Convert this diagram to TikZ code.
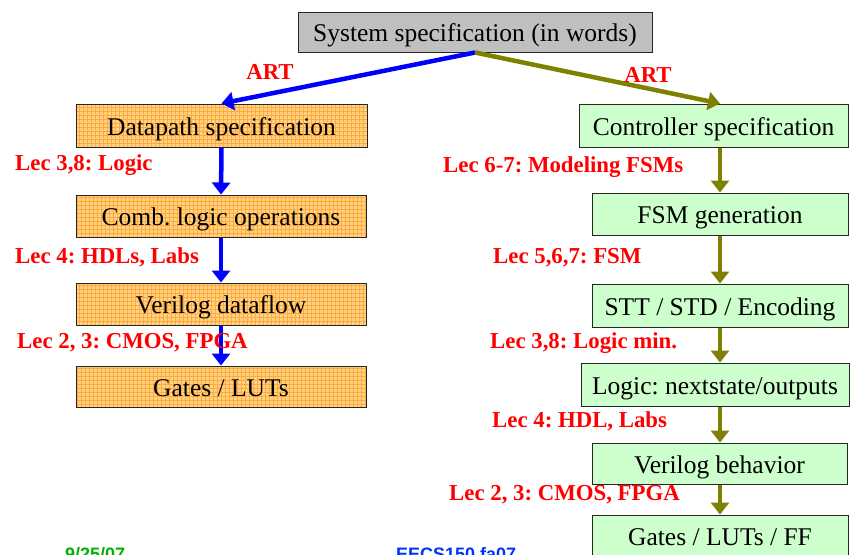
\documentclass[tikz,border=0pt]{standalone}
\usepackage{fontspec}
\setmainfont{Liberation Serif}
\newfontfamily\footfont{Liberation Sans}
\usetikzlibrary{arrows.meta,calc}

\definecolor{dpfill}{HTML}{FFD27F}
\definecolor{dpgrid}{HTML}{FFA940}
\definecolor{ctlfill}{HTML}{CCFFCC}
\definecolor{sysfill}{HTML}{C0C0C0}
\definecolor{olivearrow}{HTML}{808000}
\definecolor{lecred}{HTML}{FF0000}
\definecolor{footgreen}{HTML}{00B000}
\definecolor{footblue}{HTML}{0033FF}

\tikzset{
  box/.style={draw=black!85, line width=1pt, inner sep=0pt, anchor=center,
    text height=20pt, text depth=1pt,
    font=\fontsize{25.5}{28}\selectfont},
  sysbox/.style={box, fill=sysfill},
  dpbox/.style={box, fill=dpfill,
    path picture={\draw[dpgrid, line width=0.75pt, step=4pt]
      (path picture bounding box.south west) grid (path picture bounding box.north east);}},
  ctlbox/.style={box, fill=ctlfill},
  flow/.style={line width=4.5pt, -{Triangle[length=12pt,width=18pt]}},
  dpflow/.style={flow, draw=blue, fill=blue},
  ctlflow/.style={flow, draw=olivearrow, fill=olivearrow},
  lec/.style={text=lecred, font=\bfseries\fontsize{22.8}{25}\selectfont, inner sep=0pt},
  foot/.style={font=\footfont\bfseries\fontsize{18}{20}\selectfont, inner sep=0pt, anchor=base west}
}

\begin{document}
\frenchspacing
\begin{tikzpicture}[x=1pt, y=-1pt]
  \useasboundingbox (0,0) rectangle (850,554);
  \clip (0,0) rectangle (850,554);

  % top-level specification
  \node[sysbox, minimum width=354pt, minimum height=40pt] (sys) at (475,32)
    {System specification (in words)};

  % datapath column
  \node[dpbox, minimum width=291pt, minimum height=43pt] (dp) at (221.5,125.5) {Datapath specification};
  \node[dpbox, minimum width=290pt, minimum height=42pt] (comb) at (221,216) {Comb. logic operations};
  \node[dpbox, minimum width=290pt, minimum height=42pt] (vdf) at (221,304) {Verilog dataflow};
  \node[dpbox, minimum width=290pt, minimum height=41pt] (gates) at (221,386.5) {Gates / LUTs};

  % controller column
  \node[ctlbox, minimum width=269pt, minimum height=43pt] (ctl) at (713.5,125.5) {Controller specification};
  \node[ctlbox, minimum width=256pt, minimum height=42pt] (fsm) at (720,214) {FSM generation};
  \node[ctlbox, minimum width=256pt, minimum height=43pt] (stt) at (720,305.5) {STT / STD / Encoding};
  \node[ctlbox, minimum width=268pt, minimum height=43pt] (nsl) at (715,384.5) {Logic: nextstate/outputs};
  \node[ctlbox, minimum width=255pt, minimum height=41pt] (vbh) at (719.5,463.5) {Verilog behavior};
  \node[ctlbox, minimum width=256pt, minimum height=42pt] (glf) at (720,536) {Gates / LUTs / FF};

  % flow arrows
  \draw[dpflow] (sys.south) -- (dp.north);
  \draw[ctlflow] (sys.south) -- (ctl.north -| fsm.north);
  \draw[dpflow] (dp.south) -- (comb.north);
  \draw[dpflow] (comb.south) -- (vdf.north);
  \draw[dpflow] (vdf.south) -- (gates.north);
  \draw[ctlflow] (ctl.south -| fsm.north) -- (fsm.north);
  \draw[ctlflow] (fsm.south) -- (stt.north);
  \draw[ctlflow] (stt.south) -- (nsl.north -| stt.north);
  \draw[ctlflow] (nsl.south -| stt.north) -- (vbh.north -| stt.north);
  \draw[ctlflow] (vbh.south -| stt.north) -- (glf.north);

  % lecture annotations
  \node[lec] (artl) at (270,72) {ART};
  \node[lec] (artr) at (648,75) {ART};
  \node[lec, anchor=west] (l1) at (15,165) {Lec 3,8: Logic};
  \node[lec, anchor=west] (l2) at (15,257) {Lec 4: HDLs, Labs};
  \node[lec, anchor=west] (l3) at (17,343) {Lec 2, 3: CMOS, FPGA};
  \node[lec, anchor=west] (r1) at (443,167) {Lec 6-7: Modeling FSMs};
  \node[lec, anchor=west] (r2) at (493,258) {Lec 5,6,7: FSM};
  \node[lec, anchor=west] (r3) at (490,343) {Lec 3,8: Logic min.};
  \node[lec, anchor=west] (r4) at (492,421) {Lec 4: HDL, Labs};
  \node[lec, anchor=west] (r5) at (449,495) {Lec 2, 3: CMOS, FPGA};

  % footer (runs off the lower edge of the page)
  \node[foot, text=footgreen] (date) at (65,560) {9/25/07};
  \node[foot, text=footblue] (course) at (396,560) {EECS150 fa07};
\end{tikzpicture}
\end{document}
